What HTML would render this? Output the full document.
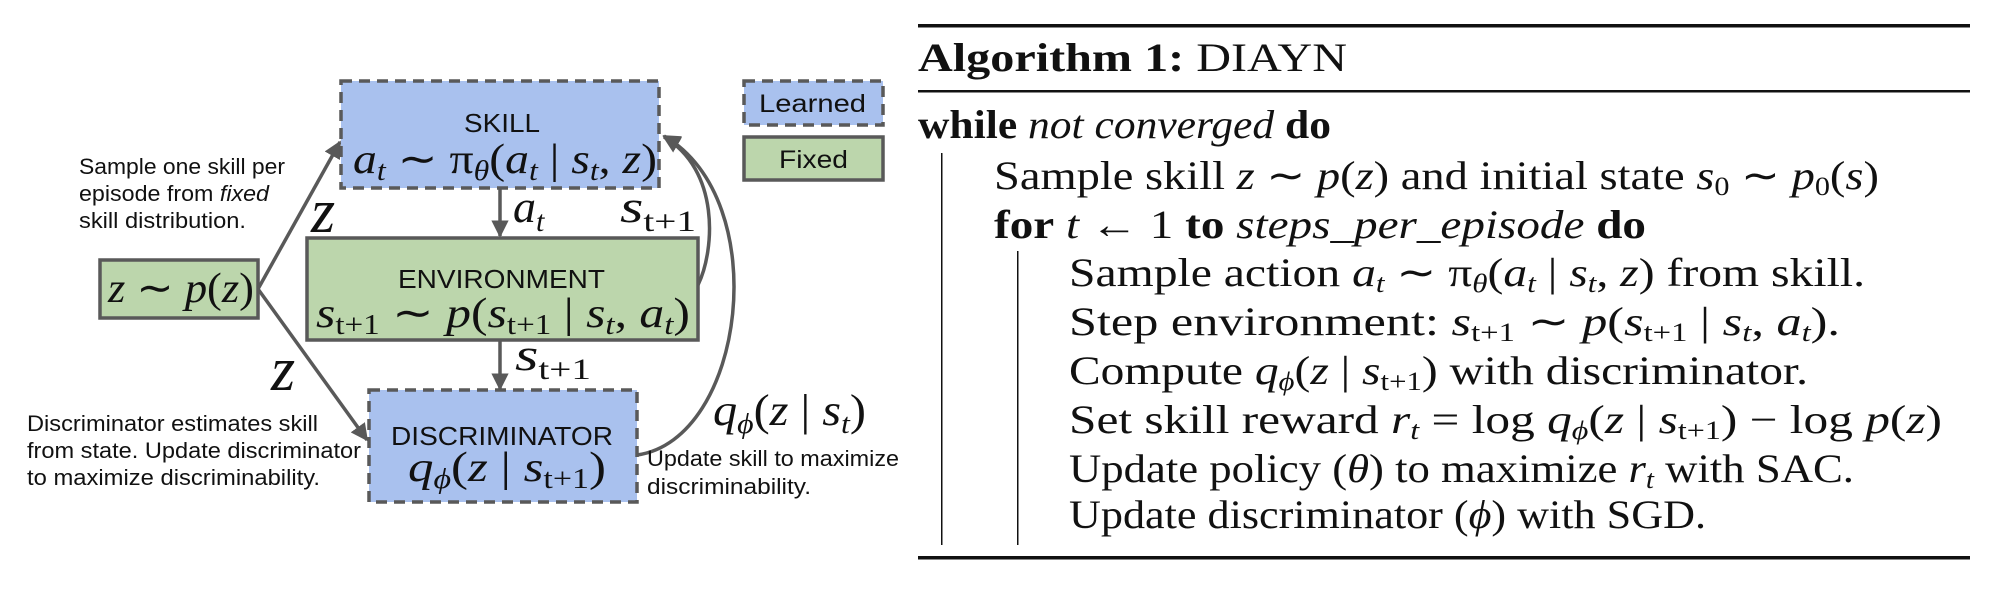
<!DOCTYPE html>
<html><head><meta charset="utf-8"><style>
html,body{margin:0;padding:0;background:#fff;width:1999px;height:589px;overflow:hidden}
svg{display:block}
.sans{font-family:"Liberation Sans",sans-serif;fill:#111}
.ser{font-family:"Liberation Serif",serif;fill:#111}
.it{font-style:italic}
.b{font-weight:bold}
</style></head><body>
<svg width="1999" height="589" viewBox="0 0 1999 589">
<defs><marker id="ah" viewBox="0 0 10 10" refX="9" refY="5" markerWidth="5" markerHeight="5" orient="auto"><path d="M0,0 L10,5 L0,10 z" fill="#595959"/></marker></defs>
<g>
<g stroke="#595959" stroke-width="3.5" fill="none">
<path d="M258,289 L340,142" marker-end="url(#ah)"/>
<path d="M258,289 L367,440" marker-end="url(#ah)"/>
<path d="M500,189 L500,236" marker-end="url(#ah)"/>
<path d="M500,340 L500,389" marker-end="url(#ah)"/>
<path d="M698,285 C715,250 720,170 664,137" marker-end="url(#ah)"/>
<path d="M637,455 C745,440 775,200 664,136" marker-end="url(#ah)"/>
</g>
<rect x="341" y="81" width="318" height="107" fill="#a9c1ee" stroke="#595959" stroke-width="3.5" stroke-dasharray="11,7"/>
<rect x="307" y="238" width="391" height="102" fill="#bcd6ac" stroke="#595959" stroke-width="3.5"/>
<rect x="100" y="260" width="158" height="58" fill="#bcd6ac" stroke="#595959" stroke-width="3.5"/>
<rect x="369" y="390" width="268" height="112" fill="#a9c1ee" stroke="#595959" stroke-width="3.5" stroke-dasharray="11,7"/>
<rect x="744" y="81" width="139" height="44" fill="#a9c1ee" stroke="#595959" stroke-width="3.5" stroke-dasharray="11,7"/>
<rect x="744" y="137" width="139" height="43" fill="#bcd6ac" stroke="#595959" stroke-width="3.5"/>
<text class="sans" x="759" y="112" font-size="25" textLength="107" lengthAdjust="spacingAndGlyphs">Learned</text>
<text class="sans" x="779" y="168" font-size="25" textLength="69" lengthAdjust="spacingAndGlyphs">Fixed</text>
<text class="sans" x="464" y="132" font-size="26" textLength="76" lengthAdjust="spacingAndGlyphs">SKILL</text>
<text class="ser it" x="353" y="173" font-size="42" textLength="304" lengthAdjust="spacingAndGlyphs">a<tspan font-size="28" dy="7">t</tspan><tspan dy="-7" font-style="normal"> ∼ π</tspan><tspan font-size="28" dy="7">θ</tspan><tspan dy="-7" font-style="normal">(</tspan>a<tspan font-size="28" dy="7">t</tspan><tspan dy="-7" font-style="normal"> | </tspan>s<tspan font-size="28" dy="7">t</tspan><tspan dy="-7" font-style="normal">, </tspan>z<tspan font-style="normal">)</tspan></text>
<text class="sans" x="398" y="288" font-size="26" textLength="207" lengthAdjust="spacingAndGlyphs">ENVIRONMENT</text>
<text class="ser it" x="316" y="327" font-size="42" textLength="374" lengthAdjust="spacingAndGlyphs">s<tspan font-size="28" dy="7" font-style="normal">t+1</tspan><tspan dy="-7" font-style="normal"> ∼ </tspan>p<tspan font-style="normal">(</tspan>s<tspan font-size="28" dy="7" font-style="normal">t+1</tspan><tspan dy="-7" font-style="normal"> | </tspan>s<tspan font-size="28" dy="7">t</tspan><tspan dy="-7" font-style="normal">, </tspan>a<tspan font-size="28" dy="7">t</tspan><tspan dy="-7" font-style="normal">)</tspan></text>
<text class="ser it" x="108" y="302" font-size="42" textLength="146" lengthAdjust="spacingAndGlyphs">z<tspan font-style="normal"> ∼ </tspan>p<tspan font-style="normal">(</tspan>z<tspan font-style="normal">)</tspan></text>
<text class="sans" x="391" y="445" font-size="26" textLength="222" lengthAdjust="spacingAndGlyphs">DISCRIMINATOR</text>
<text class="ser it" x="408" y="481" font-size="42" textLength="198" lengthAdjust="spacingAndGlyphs">q<tspan font-size="28" dy="7">ϕ</tspan><tspan dy="-7" font-style="normal">(</tspan>z<tspan font-style="normal"> | </tspan>s<tspan font-size="28" dy="7" font-style="normal">t+1</tspan><tspan dy="-7" font-style="normal">)</tspan></text>
<text class="ser it" x="311" y="232" font-size="62">z</text>
<text class="ser it" x="271" y="390" font-size="62">z</text>
<text class="ser it" x="513" y="222" font-size="46">a<tspan font-size="30" dy="9">t</tspan></text>
<text class="ser it" x="620" y="222" font-size="46" textLength="76" lengthAdjust="spacingAndGlyphs">s<tspan font-size="30" dy="9" font-style="normal">t+1</tspan></text>
<text class="ser it" x="515" y="370" font-size="46" textLength="76" lengthAdjust="spacingAndGlyphs">s<tspan font-size="30" dy="9" font-style="normal">t+1</tspan></text>
<text class="ser it" x="713" y="425" font-size="44" textLength="153" lengthAdjust="spacingAndGlyphs">q<tspan font-size="29" dy="8">ϕ</tspan><tspan dy="-8" font-style="normal">(</tspan>z<tspan font-style="normal"> | </tspan>s<tspan font-size="29" dy="8">t</tspan><tspan dy="-8" font-style="normal">)</tspan></text>
<g class="sans" font-size="22">
<text x="79" y="174" textLength="206" lengthAdjust="spacingAndGlyphs">Sample one skill per</text>
<text x="79" y="201" textLength="190" lengthAdjust="spacingAndGlyphs">episode from <tspan font-style="italic">fixed</tspan></text>
<text x="79" y="228" textLength="167" lengthAdjust="spacingAndGlyphs">skill distribution.</text>
<text x="27" y="431" textLength="291" lengthAdjust="spacingAndGlyphs">Discriminator estimates skill</text>
<text x="27" y="458" textLength="334" lengthAdjust="spacingAndGlyphs">from state. Update discriminator</text>
<text x="27" y="485" textLength="293" lengthAdjust="spacingAndGlyphs">to maximize discriminability.</text>
<text x="647" y="466" textLength="252" lengthAdjust="spacingAndGlyphs">Update skill to maximize</text>
<text x="647" y="494" textLength="164" lengthAdjust="spacingAndGlyphs">discriminability.</text>
</g>
</g>
<g>
<rect x="918" y="24" width="1052" height="3.5" fill="#111"/>
<rect x="918" y="90" width="1052" height="2.5" fill="#111"/>
<rect x="918" y="556" width="1052" height="3.5" fill="#111"/>
<rect x="941" y="153" width="1.5" height="392" fill="#111"/>
<rect x="1017" y="251" width="1.5" height="294" fill="#111"/>
<g class="ser" font-size="40">
<text x="918" y="71" textLength="429" lengthAdjust="spacingAndGlyphs"><tspan font-weight="bold">Algorithm 1:</tspan> DIAYN</text>
<text x="918" y="138" textLength="413" lengthAdjust="spacingAndGlyphs"><tspan font-weight="bold">while</tspan> <tspan font-style="italic">not converged</tspan> <tspan font-weight="bold">do</tspan></text>
<text x="994" y="189" textLength="885" lengthAdjust="spacingAndGlyphs">Sample skill <tspan font-style="italic">z</tspan> ∼ <tspan font-style="italic">p</tspan>(<tspan font-style="italic">z</tspan>) and initial state <tspan font-style="italic">s</tspan><tspan font-size="26" dy="6">0</tspan><tspan dy="-6"> ∼ </tspan><tspan font-style="italic">p</tspan><tspan font-size="26" dy="6">0</tspan><tspan dy="-6">(</tspan><tspan font-style="italic">s</tspan>)</text>
<text x="994" y="238" textLength="652" lengthAdjust="spacingAndGlyphs"><tspan font-weight="bold">for</tspan> <tspan font-style="italic">t</tspan> ← 1 <tspan font-weight="bold">to</tspan> <tspan font-style="italic">steps_per_episode</tspan> <tspan font-weight="bold">do</tspan></text>
<text x="1069" y="286" textLength="796" lengthAdjust="spacingAndGlyphs">Sample action <tspan font-style="italic">a</tspan><tspan font-size="26" dy="6" font-style="italic">t</tspan><tspan dy="-6"> ∼ π</tspan><tspan font-size="26" dy="6" font-style="italic">θ</tspan><tspan dy="-6">(</tspan><tspan font-style="italic">a</tspan><tspan font-size="26" dy="6" font-style="italic">t</tspan><tspan dy="-6"> | </tspan><tspan font-style="italic">s</tspan><tspan font-size="26" dy="6" font-style="italic">t</tspan><tspan dy="-6">, </tspan><tspan font-style="italic">z</tspan>) from skill.</text>
<text x="1069" y="335" textLength="771" lengthAdjust="spacingAndGlyphs">Step environment: <tspan font-style="italic">s</tspan><tspan font-size="26" dy="6">t+1</tspan><tspan dy="-6"> ∼ </tspan><tspan font-style="italic">p</tspan>(<tspan font-style="italic">s</tspan><tspan font-size="26" dy="6">t+1</tspan><tspan dy="-6"> | </tspan><tspan font-style="italic">s</tspan><tspan font-size="26" dy="6" font-style="italic">t</tspan><tspan dy="-6">, </tspan><tspan font-style="italic">a</tspan><tspan font-size="26" dy="6" font-style="italic">t</tspan><tspan dy="-6">).</tspan></text>
<text x="1069" y="384" textLength="739" lengthAdjust="spacingAndGlyphs">Compute <tspan font-style="italic">q</tspan><tspan font-size="26" dy="6" font-style="italic">ϕ</tspan><tspan dy="-6">(</tspan><tspan font-style="italic">z</tspan> | <tspan font-style="italic">s</tspan><tspan font-size="26" dy="6">t+1</tspan><tspan dy="-6">) with discriminator.</tspan></text>
<text x="1069" y="433" textLength="873" lengthAdjust="spacingAndGlyphs">Set skill reward <tspan font-style="italic">r</tspan><tspan font-size="26" dy="6" font-style="italic">t</tspan><tspan dy="-6"> = log </tspan><tspan font-style="italic">q</tspan><tspan font-size="26" dy="6" font-style="italic">ϕ</tspan><tspan dy="-6">(</tspan><tspan font-style="italic">z</tspan> | <tspan font-style="italic">s</tspan><tspan font-size="26" dy="6">t+1</tspan><tspan dy="-6">) − log </tspan><tspan font-style="italic">p</tspan>(<tspan font-style="italic">z</tspan>)</text>
<text x="1069" y="482" textLength="785" lengthAdjust="spacingAndGlyphs">Update policy (<tspan font-style="italic">θ</tspan>) to maximize <tspan font-style="italic">r</tspan><tspan font-size="26" dy="6" font-style="italic">t</tspan><tspan dy="-6"> with SAC.</tspan></text>
<text x="1069" y="528" textLength="637" lengthAdjust="spacingAndGlyphs">Update discriminator (<tspan font-style="italic">ϕ</tspan>) with SGD.</text>
</g>
</g>
</svg>
</body></html>
